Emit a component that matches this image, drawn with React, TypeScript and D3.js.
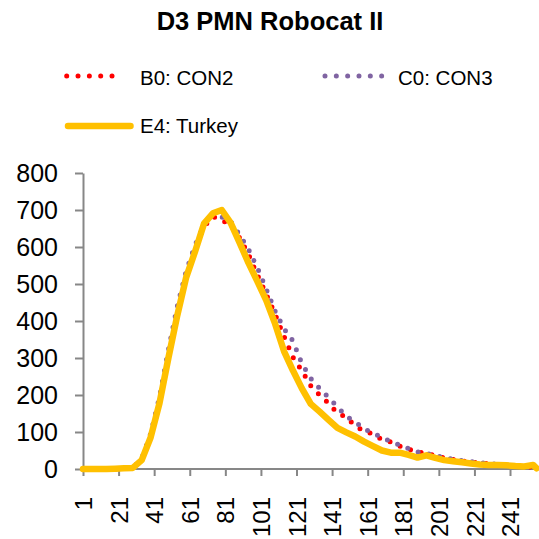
import { useEffect, useRef } from "react";
import * as d3 from "d3";

// sample days (category index on the x axis)
const days = [1, 4, 9, 14, 19, 24, 29, 34, 39, 44, 49, 54, 59, 64, 69, 74, 79, 84, 89, 94, 99, 104, 109, 114, 119, 124, 129, 134, 139, 144, 149, 154, 159, 164, 169, 174, 179, 184, 189, 194, 199, 204, 209, 214, 219, 224, 229, 234, 239, 244, 249, 254, 256];

const con2 = [0, 0, 0, 0, 0, 1, 3, 25, 90, 185, 310, 425, 525, 598, 655, 682, 672, 660, 625, 580, 525, 472, 418, 358, 302, 266, 225, 200, 178, 151, 140, 116, 103, 94, 80, 73, 62, 54, 46, 42, 36, 30, 26, 22, 19, 16, 14, 12, 10, 8, 7, 5, 4];
const con3 = [0, 0, 0, 0, 0, 1, 3, 28, 95, 195, 322, 440, 535, 605, 660, 691, 681, 669, 633, 594, 544, 486, 426, 379, 346, 285, 245, 218, 193, 168, 142, 128, 108, 97, 85, 74, 65, 55, 46, 42, 36, 31, 26, 23, 20, 17, 15, 13, 11, 9, 7, 5, 4];
const turkey = [0, 0, 0, 0, 1, 2, 3, 24, 85, 178, 300, 415, 518, 588, 663, 691, 700, 665, 612, 557, 507, 456, 392, 318, 266, 218, 176, 155, 133, 111, 99, 88, 74, 62, 50, 44, 44, 38, 31, 37, 30, 24, 21, 18, 15, 12, 11, 11, 10, 8, 7, 11, 2];

const xTicks = [1, 21, 41, 61, 81, 101, 121, 141, 161, 181, 201, 221, 241];
const yTicks = [0, 100, 200, 300, 400, 500, 600, 700, 800];

const font = "'Liberation Sans', Arial, sans-serif";
const axisColor = "#878787";

export default function App() {
  const width = 539;
  const height = 539;
  const marginLeft = 83;
  const marginTop = 173;
  const marginBottom = 70;

  const gx = useRef(null);
  const gy = useRef(null);

  const x = d3.scaleLinear().domain([1, 256]).range([marginLeft, 536.7]);
  const y = d3.scaleLinear().domain([0, 800]).range([height - marginBottom, marginTop]);

  const line = d3.line<number>()
    .x((d, i) => x(days[i]))
    .y(d => y(d));

  useEffect(() => {
    const g = d3.select(gx.current)
      // @ts-ignore
      .call(d3.axisBottom(x).tickValues(xTicks).tickSize(7).tickSizeOuter(0).tickFormat(d3.format("d")));
    g.attr("font-family", font).attr("font-size", 24);
    g.select(".domain").attr("stroke", axisColor).attr("stroke-width", 2).attr("d", `M${marginLeft},0H${width}`);
    g.selectAll(".tick line").attr("stroke", axisColor).attr("stroke-width", 2);
    g.selectAll(".tick text")
      .attr("fill", "#000")
      .attr("transform", "rotate(-90)")
      .attr("text-anchor", "end")
      .attr("x", -28)
      .attr("y", 0)
      .attr("dy", "0.36em");
  }, [gx, x]);

  useEffect(() => {
    const g = d3.select(gy.current)
      // @ts-ignore
      .call(d3.axisLeft(y).tickValues(yTicks).tickSize(8).tickPadding(17).tickSizeOuter(0));
    g.attr("font-family", font).attr("font-size", 25);
    g.select(".domain").attr("stroke", axisColor).attr("stroke-width", 2);
    g.selectAll(".tick line").attr("stroke", axisColor).attr("stroke-width", 2);
    g.selectAll(".tick text").attr("fill", "#000");
  }, [gy, y]);

  return (
    <svg width={width} height={height} style={{ position: "absolute", left: 0, top: 0, background: "#fff" }}>
      <text x={270} y={30} textAnchor="middle" fontFamily={font} fontWeight="bold" fontSize={25.5}>D3 PMN Robocat II</text>

      {/* legend */}
      <line x1={66.7} x2={123.3} y1={76} y2={76} stroke="#FF0000" strokeWidth={5} strokeLinecap="round" strokeDasharray="0 11.33" />
      <text x={140} y={85} fontFamily={font} fontSize={20.5}>B0: CON2</text>
      <line x1={325} x2={381.7} y1={76} y2={76} stroke="#8064A2" strokeWidth={5} strokeLinecap="round" strokeDasharray="0 11.33" />
      <text x={398} y={85} fontFamily={font} fontSize={20.5}>C0: CON3</text>
      <line x1={68} x2={130.5} y1={126} y2={126} stroke="#FFC000" strokeWidth={6.5} strokeLinecap="round" />
      <text x={140} y={133} fontFamily={font} fontSize={20.5}>E4: Turkey</text>

      <g ref={gy} transform={`translate(${marginLeft},0)`} />
      <g ref={gx} transform={`translate(0,${height - marginBottom})`} />

      <path d={line(con2) ?? ""} fill="none" stroke="#FF0000" strokeWidth={5} strokeLinecap="round" strokeDasharray="0 11" />
      <path d={line(con3) ?? ""} fill="none" stroke="#8064A2" strokeWidth={5} strokeLinecap="round" strokeDasharray="0 11" />
      <path d={line(turkey) ?? ""} fill="none" stroke="#FFC000" strokeWidth={6.5} strokeLinejoin="round" strokeLinecap="round" />
    </svg>
  );
}
